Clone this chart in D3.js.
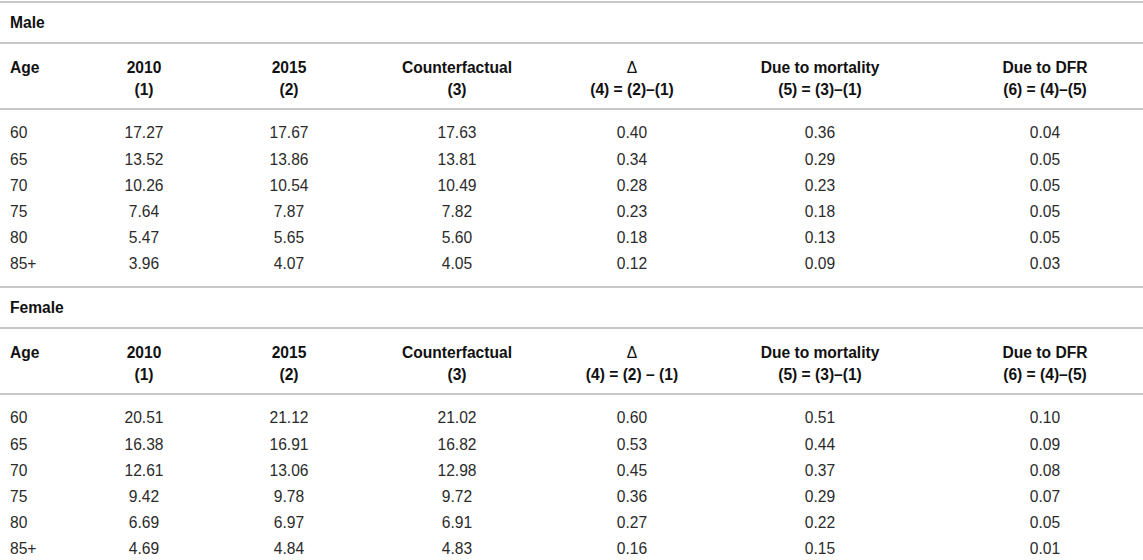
<!DOCTYPE html>
<html>
<head>
<meta charset="utf-8">
<script src="https://cdn.jsdelivr.net/npm/d3@7"></script>
<style>
  body { margin: 0; background: #fff; }
  svg { display: block; font-family: "Liberation Sans", Arial, sans-serif; }
</style>
</head>
<body>
<div class="drawingArea"></div>
<script>
var width = 1143;
var height = 560;

//Data
var ages = ["60", "65", "70", "75", "80", "85+"];
var headTop = ["Age", "2010", "2015", "Counterfactual", "\u0394", "Due to mortality", "Due to DFR"];
var headBottomMale = ["", "(1)", "(2)", "(3)", "(4) = (2)\u2013(1)", "(5) = (3)\u2013(1)", "(6) = (4)\u2013(5)"];
var headBottomFemale = ["", "(1)", "(2)", "(3)", "(4) = (2) \u2013 (1)", "(5) = (3)\u2013(1)", "(6) = (4)\u2013(5)"];

var male2010 = [17.27, 13.52, 10.26, 7.64, 5.47, 3.96];
var male2015 = [17.67, 13.86, 10.54, 7.87, 5.65, 4.07];
var maleCounter = [17.63, 13.81, 10.49, 7.82, 5.60, 4.05];
var maleDelta = [0.40, 0.34, 0.28, 0.23, 0.18, 0.12];
var maleMort = [0.36, 0.29, 0.23, 0.18, 0.13, 0.09];
var maleDfr = [0.04, 0.05, 0.05, 0.05, 0.05, 0.03];

var female2010 = [20.51, 16.38, 12.61, 9.42, 6.69, 4.69];
var female2015 = [21.12, 16.91, 13.06, 9.78, 6.97, 4.84];
var femaleCounter = [21.02, 16.82, 12.98, 9.72, 6.91, 4.83];
var femaleDelta = [0.60, 0.53, 0.45, 0.36, 0.27, 0.16];
var femaleMort = [0.51, 0.44, 0.37, 0.29, 0.22, 0.15];
var femaleDfr = [0.10, 0.09, 0.08, 0.07, 0.05, 0.01];

var sections = [
    { title: "Male", head: headBottomMale,
      cols: [male2010, male2015, maleCounter, maleDelta, maleMort, maleDfr] },
    { title: "Female", head: headBottomFemale,
      cols: [female2010, female2015, femaleCounter, femaleDelta, femaleMort, femaleDfr] }
];

//Layout
var colCenters = [0, 144, 289, 457, 632, 820, 1045];
var ageX = 10;
var sectionHeight = 285;
var fontSize = 15.6;
var lineColor = "#c8c8c8";
var textColor = "#2b2b2b";

var x = d3.scaleOrdinal().domain(d3.range(headTop.length)).range(colCenters);
var fmt = d3.format(".2f");

var svg = d3.select(".drawingArea").append("svg:svg")
    .attr("width", width)
    .attr("height", height);

sections.forEach(function (sec, s) {
    var g = svg.append("g").attr("transform", "translate(0," + (s * sectionHeight) + ")");

    //rows
    var y = d3.scalePoint().domain(ages).range([133, 264]);

    //rules
    g.selectAll("line")
        .data([2, 43, 109])
        .enter()
        .append("line")
        .attr("x1", 0)
        .attr("x2", width)
        .attr("y1", function (d) { return d; })
        .attr("y2", function (d) { return d; })
        .attr("stroke", lineColor)
        .attr("stroke-width", 2);

    g.append("text")
        .attr("x", ageX)
        .attr("y", 23)
        .attr("dy", "0.35em")
        .attr("font-size", fontSize)
        .attr("font-weight", "bold")
        .attr("fill", "#111")
        .text(sec.title);

    //header
    g.selectAll("text.htop")
        .data(headTop)
        .enter()
        .append("text")
        .attr("class", "htop")
        .attr("x", function (d, i) { return i === 0 ? ageX : x(i); })
        .attr("y", 68)
        .attr("dy", "0.35em")
        .attr("text-anchor", function (d, i) { return i === 0 ? "start" : "middle"; })
        .attr("font-size", fontSize)
        .attr("font-weight", function (d, i) { return i === 4 ? "normal" : "bold"; })
        .attr("fill", "#111")
        .text(function (d) { return d; });

    g.selectAll("text.hbot")
        .data(sec.head)
        .enter()
        .append("text")
        .attr("class", "hbot")
        .attr("x", function (d, i) { return x(i); })
        .attr("y", 90)
        .attr("dy", "0.35em")
        .attr("text-anchor", "middle")
        .attr("font-size", fontSize)
        .attr("font-weight", "bold")
        .attr("fill", "#111")
        .text(function (d) { return d; });

    //age column
    g.selectAll("text.age")
        .data(ages)
        .enter()
        .append("text")
        .attr("class", "age")
        .attr("x", ageX)
        .attr("y", function (d) { return y(d); })
        .attr("dy", "0.35em")
        .attr("font-size", fontSize)
        .attr("fill", textColor)
        .text(function (d) { return d; });

    //value columns
    sec.cols.forEach(function (col, c) {
        g.selectAll("text.c" + c)
            .data(col)
            .enter()
            .append("text")
            .attr("class", "c" + c)
            .attr("x", x(c + 1))
            .attr("y", function (d, i) { return y(ages[i]); })
            .attr("dy", "0.35em")
            .attr("text-anchor", "middle")
            .attr("font-size", fontSize)
            .attr("fill", textColor)
            .text(function (d) { return fmt(d); });
    });
});
</script>
</body>
</html>
